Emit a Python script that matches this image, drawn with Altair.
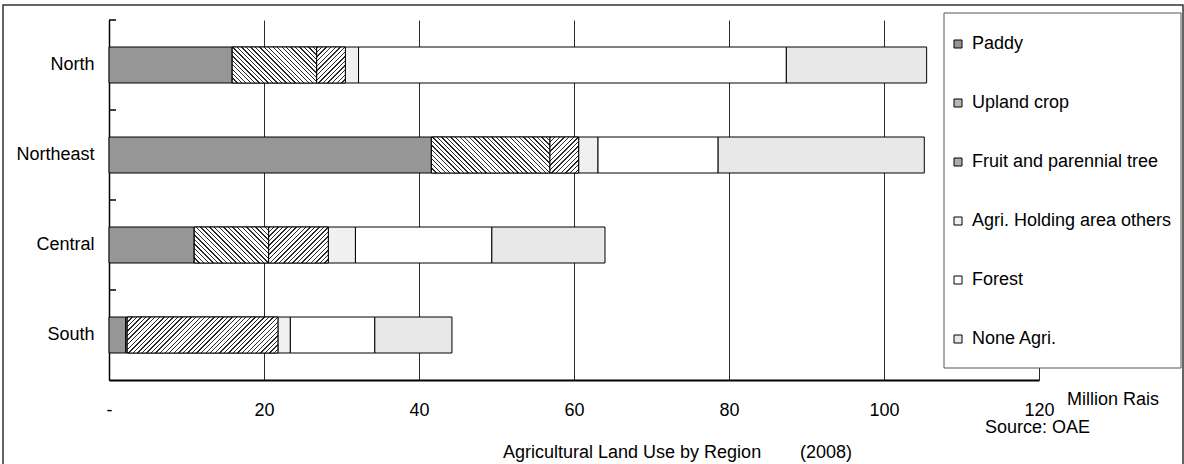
import math
import altair as alt
import pandas as pd

# ---------------- data ----------------
regions = ["North", "Northeast", "Central", "South"]
categories = ["Paddy", "Upland crop", "Fruit and parennial tree",
              "Agri. Holding area others", "Forest", "None Agri."]
paddy = [15.9, 41.6, 11.0, 2.15]
upland = [10.9, 15.3, 9.6, 0.2]
fruit = [3.7, 3.7, 7.7, 19.45]
others = [1.7, 2.5, 3.5, 1.6]
forest = [55.2, 15.5, 17.6, 10.9]
none_agri = [18.1, 26.6, 14.6, 9.95]
x_ticks = [0, 20, 40, 60, 80, 100, 120]

series = [paddy, upland, fruit, others, forest, none_agri]
rows = []
for ci, (cat, vals) in enumerate(zip(categories, series)):
    for r, v in zip(regions, vals):
        rows.append({"Region": r, "Category": cat, "value": v, "order": ci})
df = pd.DataFrame(rows)

# ---------------- styling ----------------
FONT = "Liberation Sans"
FS = 18
W, H = 930, 360
XMAX = 120
PX = W / XMAX
BAR_BAND = 0.4
BAR_H = BAR_BAND * H / len(regions)
greys = ["#969696", "#b8b8b8", "#acacac", "#f0f0f0", "#ffffff", "#e8e8e8"]

base = alt.Chart(df).transform_stack(
    stack="value", groupby=["Region"], as_=["x0", "x1"],
    sort=[alt.SortField("order", order="ascending")],
)

yenc = alt.Y(
    "Region:N", sort=regions,
    scale=alt.Scale(paddingInner=0, paddingOuter=0),
    axis=alt.Axis(title=None, labelFont=FONT, labelFontSize=FS, labelColor="black",
                  labelPadding=15, ticks=False, domainColor="black", domainWidth=1.5,
                  grid=False),
)
xenc = alt.X(
    "x0:Q",
    scale=alt.Scale(domain=[0, XMAX], nice=False),
    axis=alt.Axis(values=x_ticks, title=None, ticks=False, labelPadding=21,
                  labelExpr="datum.value == 0 ? '-' : datum.label",
                  labelFont=FONT, labelFontSize=FS, labelColor="black",
                  labelFlush=False, labelOverlap=False,
                  grid=True, gridColor="#2a2a2a", gridWidth=1,
                  domainColor="black", domainWidth=2),
)

bars = base.mark_bar(height={"band": BAR_BAND}, stroke="black", strokeWidth=1).encode(
    x=xenc, x2="x1:Q", y=yenc,
    color=alt.Color(
        "Category:N",
        scale=alt.Scale(domain=categories, range=greys),
        legend=alt.Legend(orient="none", legendX=840, legendY=15, title=None,
                          symbolType="square", symbolSize=64,
                          symbolStrokeColor="black", symbolStrokeWidth=1,
                          labelFont=FONT, labelFontSize=FS, labelColor="black",
                          labelLimit=400, labelOffset=5, rowPadding=41, padding=0,
                          zindex=1),
    ),
    order=alt.Order("order:Q"),
)


def hatch(w, h, direction, period=3.2, lw=0.95, color="#2a2a2a"):
    k = (w + h) / (w * w + h * h)
    n = max(1, round((w + h) / math.sqrt(2) / period))
    stops = []
    for i in range(n):
        a = i / n
        b = (i + lw / period) / n
        c = (i + 1) / n
        stops += [{"offset": a, "color": color}, {"offset": b, "color": color},
                  {"offset": b, "color": "white"}, {"offset": c, "color": "white"}]
    if direction == "back":   # "\\" lines
        g = {"x1": 0, "y1": 1, "x2": k * w, "y2": 1 - k * h}
    else:                     # "/" lines
        g = {"x1": 0, "y1": 0, "x2": k * w, "y2": k * h}
    return {"gradient": "linear", "stops": stops, **g}


hatch_layers = []
for cat, vals, direction in [("Upland crop", upland, "back"),
                             ("Fruit and parennial tree", fruit, "fwd")]:
    for r, v in zip(regions, vals):
        if v < 0.5:
            continue
        layer = base.transform_filter(
            f"datum.Region == '{r}' && datum.Category == '{cat}'"
        ).mark_bar(height={"band": BAR_BAND}, stroke="black", strokeWidth=1,
                   fill=hatch(v * PX, BAR_H, direction)).encode(
            x=xenc, x2="x1:Q", y=yenc)
        hatch_layers.append(layer)

# inward ticks at category boundaries
ticks = alt.Chart(pd.DataFrame({"Region": regions})).mark_rule(
    color="black", strokeWidth=1.5).encode(
    y=alt.Y("Region:N", sort=regions, bandPosition=0),
    x=alt.value(0), x2=alt.value(7))

one = pd.DataFrame({"a": [0]})
outer = alt.Chart(one).mark_rect(fill="white", fillOpacity=0, stroke="#333333",
                                 strokeWidth=1.5).encode(
    x=alt.value(-106), x2=alt.value(1074), y=alt.value(-15), y2=alt.value(470))
legend_box = alt.Chart(one).mark_rect(fill="white", stroke="#555555", strokeWidth=1).encode(
    x=alt.value(835), x2=alt.value(1072), y=alt.value(-7), y2=alt.value(348))


def label(text, x, y):
    return alt.Chart(pd.DataFrame({"t": [text]})).mark_text(
        align="left", baseline="alphabetic", font=FONT, fontSize=FS, color="black"
    ).encode(x=alt.value(x), y=alt.value(y), text="t:N")


texts = [
    label("Million Rais", 958, 385),
    label("Source: OAE", 876, 413),
    label("Agricultural Land Use by Region", 394, 438),
    label("(2008)", 691, 438),
]

chart = alt.layer(outer, bars, *hatch_layers, ticks, legend_box, *texts).properties(
    width=W, height=H,
    padding={"left": 109, "top": 20, "right": 145, "bottom": 84},
    autosize=alt.AutoSizeParams(type="none"),
    background="white",
).configure_view(strokeWidth=0)

chart.save("out.html", embed_options={"renderer": "svg", "actions": False})
